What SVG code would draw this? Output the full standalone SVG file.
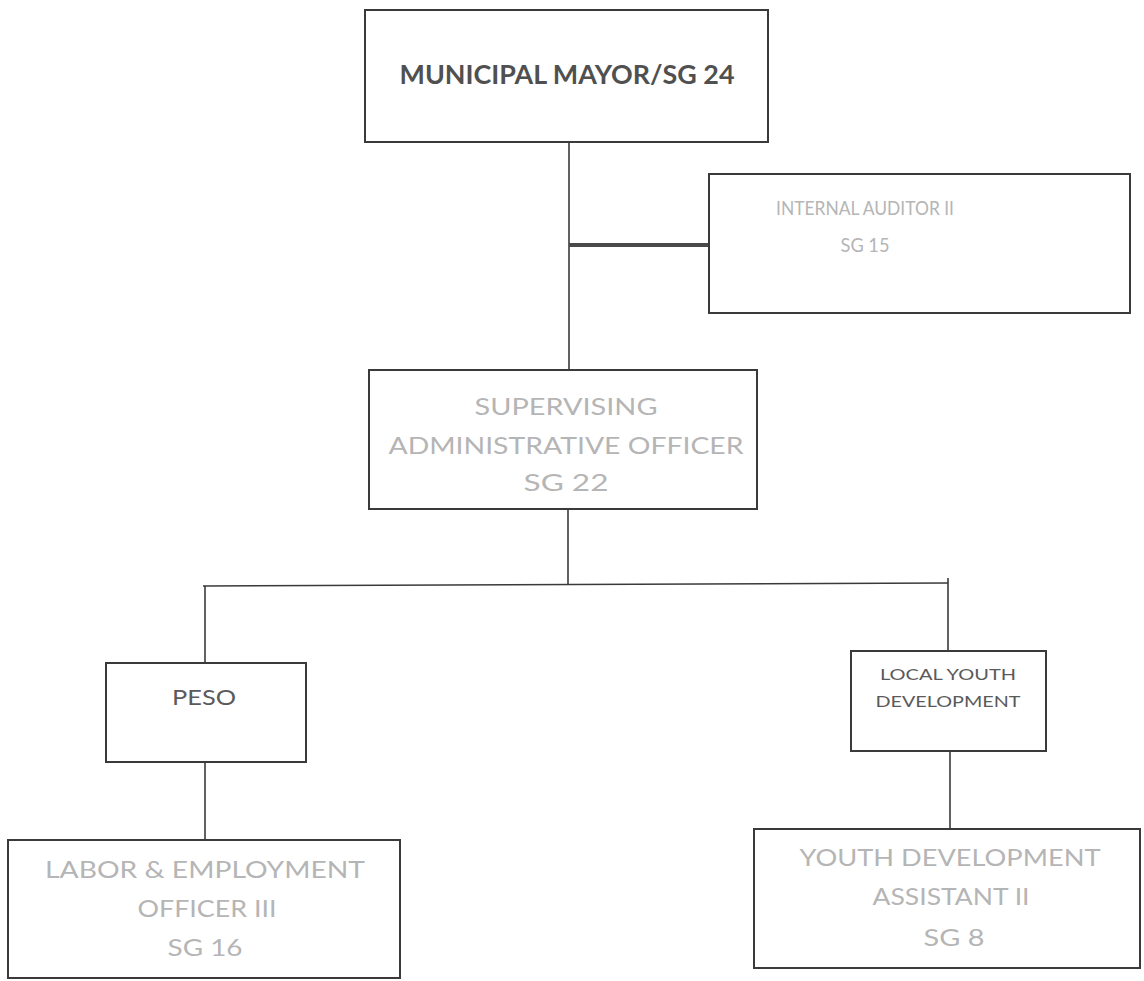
<svg xmlns="http://www.w3.org/2000/svg" width="1144" height="981" viewBox="0 0 1144 981">
<style>
.box{fill:#ffffff;stroke:#3a3a3a;stroke-width:2}
.ln{fill:none;stroke:#3a3a3a;stroke-width:1.6}
.t{font-family:Lato,"Open Sans","Liberation Sans",sans-serif;text-anchor:middle}
.dark{fill:#505050;font-weight:bold}
.mid{fill:#5a5a5a}
.light{fill:#b5b5b5}
</style>
<rect width="1144" height="981" fill="#ffffff"/>
<g id="connectors">
<line class="ln" x1="569" y1="142" x2="569" y2="370"/>
<line x1="569" y1="245" x2="709" y2="245" stroke="#4a4a4a" stroke-width="4"/>
<line class="ln" x1="568" y1="509" x2="568" y2="585"/>
<line class="ln" x1="203" y1="586" x2="948" y2="583"/>
<line class="ln" x1="205" y1="586" x2="205" y2="663"/>
<line class="ln" x1="948" y1="578" x2="948" y2="651"/>
<line class="ln" x1="205" y1="762" x2="205" y2="840"/>
<line class="ln" x1="950" y1="751" x2="950" y2="829"/>
</g>
<g id="mayor">
<rect class="box" x="365" y="10" width="403" height="132"/>
<text class="t dark" x="567" y="84" font-size="26" textLength="335" lengthAdjust="spacingAndGlyphs">MUNICIPAL MAYOR/SG 24</text>
</g>
<g id="auditor">
<rect class="box" x="709" y="174" width="421" height="139"/>
<text class="t light" x="865" y="215" font-size="20" textLength="178" lengthAdjust="spacingAndGlyphs">INTERNAL AUDITOR II</text>
<text class="t light" x="865" y="252" font-size="20" textLength="49" lengthAdjust="spacingAndGlyphs">SG 15</text>
</g>
<g id="supervising">
<rect class="box" x="369" y="370" width="388" height="139"/>
<text class="t light" x="566" y="415" font-size="24" textLength="183" lengthAdjust="spacingAndGlyphs">SUPERVISING</text>
<text class="t light" x="566" y="454" font-size="24" textLength="355" lengthAdjust="spacingAndGlyphs">ADMINISTRATIVE OFFICER</text>
<text class="t light" x="566" y="491" font-size="24" textLength="85" lengthAdjust="spacingAndGlyphs">SG 22</text>
</g>
<g id="peso">
<rect class="box" x="106" y="663" width="200" height="99"/>
<text class="t mid" x="204" y="705" font-size="22" textLength="64" lengthAdjust="spacingAndGlyphs">PESO</text>
</g>
<g id="local-youth">
<rect class="box" x="851" y="651" width="195" height="100"/>
<text class="t mid" x="948" y="680" font-size="16" textLength="136" lengthAdjust="spacingAndGlyphs">LOCAL YOUTH</text>
<text class="t mid" x="948" y="707" font-size="16" textLength="145" lengthAdjust="spacingAndGlyphs">DEVELOPMENT</text>
</g>
<g id="labor">
<rect class="box" x="8" y="840" width="392" height="138"/>
<text class="t light" x="205" y="878" font-size="24" textLength="320" lengthAdjust="spacingAndGlyphs">LABOR &amp; EMPLOYMENT</text>
<text class="t light" x="207" y="917" font-size="24" textLength="139" lengthAdjust="spacingAndGlyphs">OFFICER III</text>
<text class="t light" x="205" y="956" font-size="24" textLength="75" lengthAdjust="spacingAndGlyphs">SG 16</text>
</g>
<g id="youth-assistant">
<rect class="box" x="754" y="829" width="386" height="139"/>
<text class="t light" x="950" y="866" font-size="24" textLength="301" lengthAdjust="spacingAndGlyphs">YOUTH DEVELOPMENT</text>
<text class="t light" x="951" y="905" font-size="24" textLength="157" lengthAdjust="spacingAndGlyphs">ASSISTANT II</text>
<text class="t light" x="954" y="946" font-size="24" textLength="61" lengthAdjust="spacingAndGlyphs">SG 8</text>
</g>
</svg>
